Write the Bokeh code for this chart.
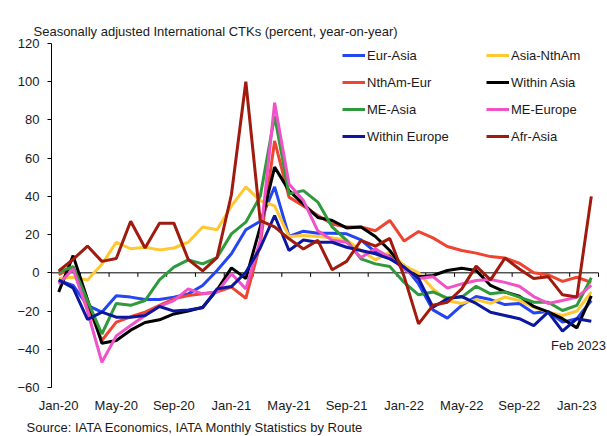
from bokeh.plotting import figure
from bokeh.models import Range1d, FixedTicker, Label, Legend, LegendItem, Title
from bokeh.embed import file_html
from bokeh.resources import INLINE

months = ["Jan-20", "Feb-20", "Mar-20", "Apr-20", "May-20", "Jun-20", "Jul-20", "Aug-20",
          "Sep-20", "Oct-20", "Nov-20", "Dec-20", "Jan-21", "Feb-21", "Mar-21", "Apr-21",
          "May-21", "Jun-21", "Jul-21", "Aug-21", "Sep-21", "Oct-21", "Nov-21", "Dec-21",
          "Jan-22", "Feb-22", "Mar-22", "Apr-22", "May-22", "Jun-22", "Jul-22", "Aug-22",
          "Sep-22", "Oct-22", "Nov-22", "Dec-22", "Jan-23", "Feb-23"]
tick_labels = ["Jan-20", "May-20", "Sep-20", "Jan-21", "May-21", "Sep-21",
               "Jan-22", "May-22", "Sep-22", "Jan-23"]
y_ticks = [-60, -40, -20, 0, 20, 40, 60, 80, 100, 120]

eur_asia = [-4, -6.6, -17, -20.6, -12, -12.7, -14, -14, -12.7, -11, -6.6, 1.2, 10, 22.5,
            27, 45, 19, 21.8, 20.7, 20.7, 20.4, 17.3, 10.8, 9, 3.8, -5.8, -19.4, -23.7,
            -17, -12.4, -14, -16.6, -16, -21, -20.2, -25.8, -24, -14.5]
asia_nthAm = [-3, -2.3, -3.7, 4.5, 16, 12.6, 13.4, 12, 13, 16, 24, 22.5, 35, 45, 37.8,
              35, 19, 19.5, 19, 18.3, 17.2, 11.7, 6.8, 10.8, 3.8, 0, -8.4, -14.5, -16,
              -14, -16, -12.7, -14.5, -18, -20.6, -22.3, -20, -10]
nthAm_eur = [-1, 3, -17, -35.4, -25.8, -23, -20.6, -17, -13.6, -11.9, -11, -10, -7.5, -13.3,
             15, 69, 39.6, 35, 30, 25.6, 24, 24, 22, 27.4, 16.6, 21.6, 18.3, 13.8, 11.7,
             10.3, 8.5, 7.8, 5, 0, -1, -4.5, -2.3, -5]
within_asia = [-10, 9, -14, -36.8, -35.4, -30, -26, -24.6, -21.5, -20, -18, -9, 2.6,
               -3, 24, 55.3, 43, 36, 29, 27.4, 23.5, 24, 19, 11.7, 2, -2, -1.4, 1.2,
               2.4, 1.2, -6.6, -10, -12.2, -17.6, -20.4, -24, -28.8, -12]
me_asia = [0.3, 3.3, -14.5, -32, -16, -17, -14.5, -3.7, 3, 6.8, 4.7, 8, 20.4, 26.5, 40, 82,
           41.3, 43, 37, 24, 17, 7.3, 4.7, 3.3, -5, -11.5, -10, -13.2, -12.7, -7, -11,
           -10, -12.7, -15.4, -15.4, -19.7, -17, -2.6]
me_europe = [-5.8, 2, -20, -46.8, -33, -27.6, -22.3, -17.5, -14.5, -8.4, -11, -10, -0.5,
             -8.4, 17, 89, 46.5, 37.8, 22, 17, 16, 8, 12.6, 8, 2, -3, -2, -8, -5.8, -4,
             -3.5, -5, -7, -12.4, -16, -14.5, -12.7, -6.6]
within_europe = [-3.7, -7.9, -24.4, -20.6, -23.2, -23.2, -22.3, -17.6, -20, -19.4, -18.3,
                 -8.4, -7.2, 0.3, 13, 30, 11.7, 17.2, 16, 16, 13.4, 11.7, 10, 7.3, 3, -3,
                 -18, -13.6, -12.4, -16, -20.6, -22.3, -24, -27.6, -20.6, -30.5, -24, -25.3]
afr_asia = [1, 7, 14, 6, 7.5, 27, 13, 26, 26, 7, 1, 8, 41, 100, 27.3, 24, 17.8, 12.5, 17,
            1.6, 6, 17, 14, 18, -2, -26.7, -17, -15.4, -8.4, 3.5, -3.7, 7.7, 2, -3, -2,
            -11.5, -12.7, 40]

series = [
    ("Eur-Asia", eur_asia, "#2446F2"),
    ("Asia-NthAm", asia_nthAm, "#FFC730"),
    ("NthAm-Eur", nthAm_eur, "#EE4430"),
    ("Within Asia", within_asia, "#000000"),
    ("ME-Asia", me_asia, "#2E9A3C"),
    ("ME-Europe", me_europe, "#F052C8"),
    ("Within Europe", within_europe, "#0A179E"),
    ("Afr-Asia", afr_asia, "#A01A0E"),
]

FONT = "Liberation Sans"
TXT = "#1a1a1a"
n = len(months)
x = list(range(n))

# frame spans 51..606 px; categories are 547/38 px wide, so the range is extended
# a little past the last category to leave room for the "Feb 2023" note
cat_px = 547.0 / n
frame_w = 555.0
p = figure(width=607, height=436, output_backend="svg", toolbar_location=None,
           x_range=Range1d(-0.5, -0.5 + frame_w / cat_px), y_range=Range1d(-60, 120),
           min_border_left=51, min_border_right=1, min_border_top=43, min_border_bottom=49)
p.outline_line_color = None
p.grid.visible = False
p.background_fill_color = "white"
p.border_fill_color = "white"

p.add_layout(Title(text="Seasonally adjusted International CTKs (percent, year-on-year)",
                   align="left", offset=-18, standoff=10, text_font=FONT,
                   text_font_size="13px", text_font_style="normal", text_color=TXT),
             "above")
p.add_layout(Title(text="Source: IATA Economics, IATA Monthly Statistics by Route",
                   align="left", offset=-25, standoff=4, text_font=FONT,
                   text_font_size="13px", text_font_style="normal", text_color=TXT),
             "below")

# y axis
ya = p.yaxis[0]
ya.ticker = FixedTicker(ticks=y_ticks)
ya.major_tick_out = 4
ya.major_tick_in = 0
ya.minor_tick_line_color = None
ya.axis_line_color = "black"
ya.major_tick_line_color = "black"
ya.major_label_standoff = 8
ya.major_label_text_font = FONT
ya.major_label_text_font_size = "13px"
ya.major_label_text_color = TXT

# x axis (labels only; axis line drawn at zero)
xa = p.xaxis[0]
tick_pos = [months.index(t) for t in tick_labels]
xa.ticker = FixedTicker(ticks=tick_pos)
xa.major_label_overrides = {pos: lab for pos, lab in zip(tick_pos, tick_labels)}
xa.axis_line_color = None
xa.major_tick_line_color = None
xa.minor_tick_line_color = None
xa.major_tick_out = 0
xa.major_tick_in = 0
xa.major_label_standoff = 10
xa.major_label_text_font = FONT
xa.major_label_text_font_size = "13px"
xa.major_label_text_color = TXT

# zero line with small category ticks
p.line([-0.5, n - 0.5], [0, 0], line_color="black", line_width=1)
bounds = [i - 0.5 for i in range(2, n + 1, 2)]
p.segment(x0=bounds, y0=[0] * len(bounds), x1=bounds, y1=[-2.1] * len(bounds),
          line_color="black", line_width=1)

renderers = {}
for name, vals, color in series:
    renderers[name] = p.line(x, vals, line_color=color, line_width=3)

def make_legend(names, loc):
    return Legend(items=[LegendItem(label=nm, renderers=[renderers[nm]]) for nm in names],
                  location=loc, orientation="vertical", glyph_width=23, glyph_height=20,
                  label_height=20, spacing=7, padding=0, margin=0, label_standoff=2,
                  border_line_color=None, background_fill_alpha=0,
                  label_text_font=FONT, label_text_font_size="13px",
                  label_text_color=TXT)

p.add_layout(make_legend(["Eur-Asia", "NthAm-Eur", "ME-Asia", "Within Europe"], (291, 241)))
p.add_layout(make_legend(["Asia-NthAm", "Within Asia", "ME-Europe", "Afr-Asia"], (435, 241)))

p.add_layout(Label(x=34.2, y=-38, text="Feb 2023", text_font=FONT, text_font_size="13px",
                   text_color=TXT, text_baseline="middle"))

open("out.html", "w").write(file_html(p, INLINE))
